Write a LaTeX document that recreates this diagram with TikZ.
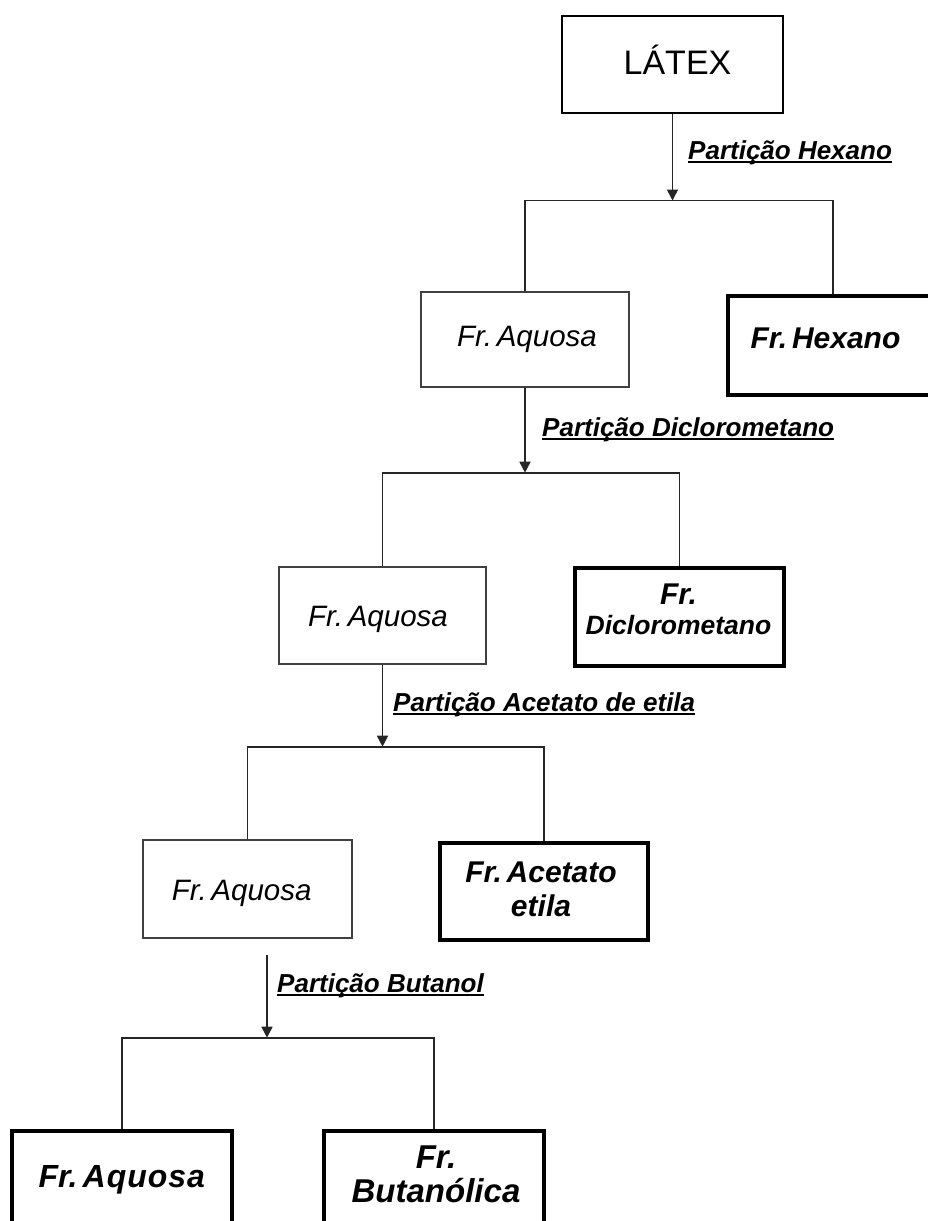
\documentclass[tikz,border=0pt]{standalone}
\usepackage{fontspec}
\setmainfont{Liberation Sans}
\usetikzlibrary{arrows.meta}
\newcommand\myunder[1]{\setbox0\hbox{#1}\rlap{\rule[-4pt]{\wd0}{1.8pt}}\box0}
\newcommand\frgap{\kern0.16em}
\begin{document}
\begin{tikzpicture}[x=1pt,y=-1pt,
  thinbox/.style={draw=black!75, line width=1.8pt, inner sep=0pt, minimum width=208pt, minimum height=96pt},
  thickbox/.style={draw=black, line width=4.5pt, inner sep=0pt, minimum width=209pt, minimum height=97pt},
  topbox/.style={draw=black, line width=2.6pt, inner sep=0pt, minimum width=221pt, minimum height=97pt},
  link/.style={draw=black!85, line width=1.6pt},
  flow/.style={link, -{Triangle[width=11pt,length=11pt]}},
  lbl/.style={anchor=base west, inner sep=0pt, font=\fontsize{26}{30}\selectfont\bfseries\itshape},
  plaintxt/.style={anchor=base, inner sep=0pt, font=\fontsize{29.5}{34}\selectfont\itshape},
  boldtxt/.style={inner sep=0pt, align=center, font=\fontsize{30}{34}\selectfont\bfseries\itshape}
]
\clip (0,0) rectangle (928,1221);
\fill[white] (0,0) rectangle (928,1221);

% boxes
\node[topbox] (latex) at (672.5,64.5) {};
\node[thinbox, minimum height=95pt] (aq1) at (525,339.5) {};
\node[thickbox, minimum width=210pt, minimum height=99pt] (hex) at (833,345.5) {};
\node[thinbox, minimum width=207pt, minimum height=97pt] (aq2) at (382.5,615.5) {};
\node[thickbox, minimum height=98pt] (dic) at (679.5,617) {};
\node[thinbox, minimum width=209pt, minimum height=98pt] (aq3) at (247.5,889) {};
\node[thickbox, minimum width=208pt] (ace) at (544,891.5) {};
\node[thickbox, minimum width=220pt, minimum height=98pt] (aq4) at (122,1180) {};
\node[thickbox, minimum width=220pt, minimum height=98pt] (but) at (434,1180) {};

% texts
\node[anchor=base, inner sep=0pt, font=\fontsize{34}{40}\selectfont] (latex-t) at (677.5,74) {LÁTEX};
\node[plaintxt] (aq1-t) at (527,346.7) {Fr.\frgap Aquosa};
\node[boldtxt, anchor=base] (hex-t) at (825.5,348) {Fr.\frgap Hexano};
\node[plaintxt] (aq2-t) at (378,626.7) {Fr.\frgap Aquosa};
\node[boldtxt, font=\fontsize{30}{30}\selectfont\bfseries\itshape] (dic-t) at (678.5,609.3) {Fr.\\{\fontsize{26.5}{30}\selectfont Diclorometano}};
\node[plaintxt] (aq3-t) at (241.7,900) {Fr.\frgap Aquosa};
\node[boldtxt] (ace-t) at (541,889) {Fr.\frgap Acetato\\etila};
\node[boldtxt, anchor=base, font=\fontsize{32}{36}\selectfont\bfseries\itshape] (aq4-t) at (121.7,1187.7) {Fr.\frgap A\kern0.03em q\kern0.03em u\kern0.03em o\kern0.03em s\kern0.03em a};
\node[boldtxt, font=\fontsize{33}{34}\selectfont\bfseries\itshape] (but-t) at (436,1174) {Fr.\\Butanólica};

% junctions
\coordinate (j1) at (672.5,200.5);
\coordinate (j2) at (525,472.7);
\coordinate (j3) at (382.5,746.7);
\coordinate (s4) at (267,955);
\coordinate (j4) at (267,1037.7);

% arrows
\draw[flow] (latex.south) -- (j1);
\draw[flow] (aq1.south) -- (j2);
\draw[flow] (aq2.south) -- (j3);
\draw[flow] (s4) -- (j4);

% brackets
\draw[link] (aq1.north) |- (j1) -| (hex.north);
\draw[link] (aq2.north) |- (j2) -| (dic.north);
\draw[link] (aq3.north) |- (j3) -| (ace.north);
\draw[link] (aq4.north) |- (j4) -| (but.north);

% labels
\node[lbl] (l1) at (688,159) {\myunder{Partição Hexano}};
\node[lbl] (l2) at (542,436) {\myunder{Partição Diclorometano}};
\node[lbl] (l3) at (393,711) {\myunder{Partição Acetato de etila}};
\node[lbl] (l4) at (277,992) {\myunder{Partição Butanol}};
\end{tikzpicture}
\end{document}
